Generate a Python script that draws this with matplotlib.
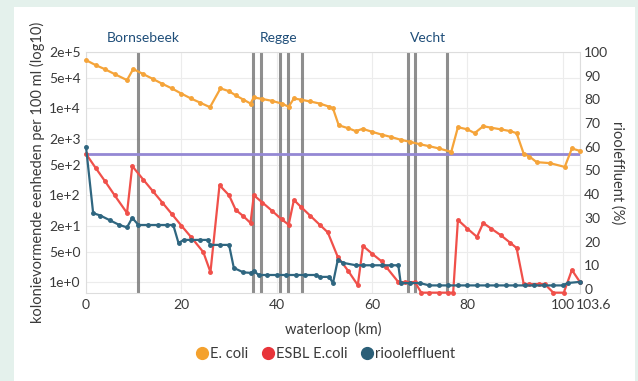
import matplotlib
matplotlib.use("Agg")
import matplotlib.pyplot as plt
from matplotlib.lines import Line2D
from matplotlib.patches import Rectangle
from matplotlib.transforms import ScaledTranslation

plt.rcParams['font.family'] = ['Lato', 'DejaVu Sans']

# E. coli (kve / 100 ml)
ecoli_km = [0, 2, 4, 6, 8.6, 9.9, 12, 14, 16, 18, 20, 22, 24, 26,
            28.2, 30, 31.4, 33, 34.5, 35.2, 37, 39, 41, 42.5, 43.6, 45, 47, 49, 51, 51.8,
            53, 55, 56.6, 58, 60, 62, 64, 66, 68, 70, 72, 74, 76.6,
            78, 80, 81.5, 83.3, 85, 87, 89, 90.3, 91.8, 93, 94.5, 97.3, 100.4, 101.9, 103.6]
ecoli = [1.3e5, 1.0e5, 8.0e4, 6.2e4, 4.5e4, 8.1e4, 6.2e4, 4.8e4, 3.7e4, 2.9e4, 2.2e4, 1.7e4, 1.35e4, 1.07e4,
         2.9e4, 2.5e4, 2.0e4, 1.6e4, 1.3e4, 1.8e4, 1.65e4, 1.5e4, 1.3e4, 1.1e4, 1.7e4, 1.6e4, 1.45e4, 1.3e4, 1.1e4, 1.0e4,
         4.1e3, 3.5e3, 3.0e3, 3.4e3, 2.9e3, 2.5e3, 2.2e3, 1.9e3, 1.7e3, 1.5e3, 1.35e3, 1.2e3, 1.0e3,
         3.7e3, 3.3e3, 2.7e3, 3.9e3, 3.6e3, 3.3e3, 3.0e3, 2.7e3, 900, 780, 580, 550, 450, 1.2e3, 1.05e3]

# ESBL E. coli (kve / 100 ml)
esbl_km = [0, 2, 4, 6, 8.6, 9.7, 12, 14, 16, 18, 20, 22, 24.6, 26.1,
           28, 30, 31.4, 33, 34.5, 35.2, 37, 39, 41, 42.5, 43.6, 45, 47, 49, 50.7,
           52.8, 55, 57, 58.1, 60, 62, 63, 65.5, 67, 69, 70.3, 72, 74, 76, 77,
           78, 80, 82, 83.3, 85, 87, 89, 90.3, 91.8, 93, 95, 96.2, 98, 100.2, 101.9, 103.6]
esbl = [900, 430, 210, 100, 39, 470, 230, 125, 68, 37, 20, 11, 4.9, 1.7,
        170, 100, 46, 33, 23, 100, 68, 44, 28, 21, 78, 55, 34, 21, 14,
        3.8, 1.8, 0.85, 6.8, 4.5, 3.0, 2.2, 1.0, 1.0, 1.0, 0.57, 0.57, 0.57, 0.57, 0.57,
        27, 17, 11, 23, 17, 12, 8, 6.1, 0.9, 0.9, 0.9, 0.9, 0.57, 0.57, 1.9, 1.0]

# riooleffluent (%)
rio_km = [0, 1.5, 3, 5, 7, 8.6, 9.7, 11, 13, 15, 17, 18.3, 19.4, 20.5, 22, 24, 25.5, 26.1, 28, 30,
          31, 33, 34.5, 35.2, 36.2, 38, 40, 42, 44, 46, 48.2, 49, 51, 51.8,
          52.8, 54, 56.6, 58, 60, 62, 64, 65.5, 66, 68, 70,
          72, 74, 76, 78, 80, 82, 84, 86, 88, 90, 92, 94, 96, 98, 100, 101, 103.6]
rio = [60, 32, 31, 29, 27, 26, 30, 27, 27, 27, 27, 27, 19.4, 20.7, 20.7, 20.7, 20.7, 18.6, 18.6, 18.6,
       8.9, 7.0, 6.8, 7.6, 5.9, 5.9, 5.9, 5.9, 5.9, 5.9, 5.9, 5.1, 5.1, 2.5,
       12.2, 11, 10, 10, 10, 10, 10, 10, 2.5, 2.5, 2.5,
       1.5, 1.5, 1.5, 1.5, 1.5, 1.5, 1.5, 1.5, 1.5, 1.5, 1.5, 1.5, 1.5, 1.5, 1.5, 2.5, 3.0]

threshold = 900
rwzi_km = [10.9, 35.0, 36.6, 40.6, 42.3, 45.3, 67.6, 69.1, 75.8]
river_names = ["Bornsebeek", "Regge", "Vecht"]
river_km = [12, 40.4, 71.8]

left_ticks = [1, 5, 20, 100, 500, 2000, 1e4, 5e4, 2e5]
left_labels = ["1e+0", "5e+0", "2e+1", "1e+2", "5e+2", "2e+3", "1e+4", "5e+4", "2e+5"]
x_ticks = [0, 20, 40, 60, 80, 100, 103.6]
x_labels = ["0", "20", "40", "60", "80", "100", "103.6"]

c_ecoli = "#f5a43a"
c_esbl = "#f0504a"
c_rio = "#2f6680"
c_text = "#3a3a3a"

fig = plt.figure(figsize=(6.38, 3.81), dpi=100)
fig.patch.set_facecolor("#e4f1ec")
fig.patches.append(Rectangle((14 / 638, 0), 621 / 638, 374 / 381, transform=fig.transFigure,
                             facecolor="white", edgecolor="none", zorder=-10))

ax = fig.add_axes([86 / 638, 88 / 381, 494 / 638, 241 / 381])
ax.set_yscale("log")
ax.set_ylim(0.56, 2e5)
ax.set_xlim(0, 103.6)
ax.set_xticks(x_ticks)
ax.set_xticklabels(x_labels)
ax.set_yticks(left_ticks)
ax.set_yticklabels(left_labels)
ax.minorticks_off()
ax.tick_params(length=0, labelsize=10, colors=c_text, pad=4)
ax.grid(True, color="#ececec", lw=0.8)
for s in ax.spines.values():
    s.set_color("#dddddd")

# last x label sits right next to "100", as in the original
last = ax.get_xticklabels()[-1]
last.set_ha("left")
last.set_transform(last.get_transform() + ScaledTranslation(-4 / 100, 0, fig.dpi_scale_trans))

ax2 = ax.twinx()
ax2.set_ylim(-1.7, 100)
ax2.set_yticks(range(0, 101, 10))
ax2.tick_params(length=0, labelsize=10, colors=c_text, pad=3)
for s in ax2.spines.values():
    s.set_visible(False)

for k in rwzi_km:
    ax.axvline(k, color="#7a7a7a", lw=2.2, alpha=0.85, zorder=2)

ax.axhline(threshold, color="#9488d4", lw=2, zorder=3)

ax.plot(ecoli_km, ecoli, color=c_ecoli, lw=1.6, marker="o", ms=2.5, zorder=4, clip_on=False)
ax.plot(esbl_km, esbl, color=c_esbl, lw=1.6, marker="o", ms=2.5, zorder=4, clip_on=False)
ax2.plot(rio_km, rio, color=c_rio, lw=1.6, marker="o", ms=2.5, zorder=4, clip_on=False)

for name, k in zip(river_names, river_km):
    ax.text(k, 1.035, name, transform=ax.get_xaxis_transform(), ha="center", va="bottom",
            color="#1f4e79", fontsize=10)

ax.set_xlabel("waterloop (km)", fontsize=10.5, color=c_text, labelpad=8)
ax.set_ylabel("kolonievormende eenheden per 100 ml (log10)", fontsize=10.5, color=c_text, labelpad=3)
ax2.set_ylabel("riooleffluent (%)", fontsize=10.5, color=c_text, rotation=270, labelpad=12)

handles = [Line2D([], [], ls="none", marker="o", ms=8.5, color=c) for c in ("#f4a12d", "#e8343a", "#2b5f78")]
fig.legend(handles, ["E. coli", "ESBL E.coli", "riooleffluent"], loc="center", bbox_to_anchor=(0.51, 0.07),
           ncol=3, frameon=False, fontsize=10.5, handletextpad=0.1, columnspacing=0.9, handlelength=0.9)
for t in fig.legends[0].get_texts():
    t.set_color(c_text)

fig.savefig("out.png", dpi=100, facecolor=fig.get_facecolor())
